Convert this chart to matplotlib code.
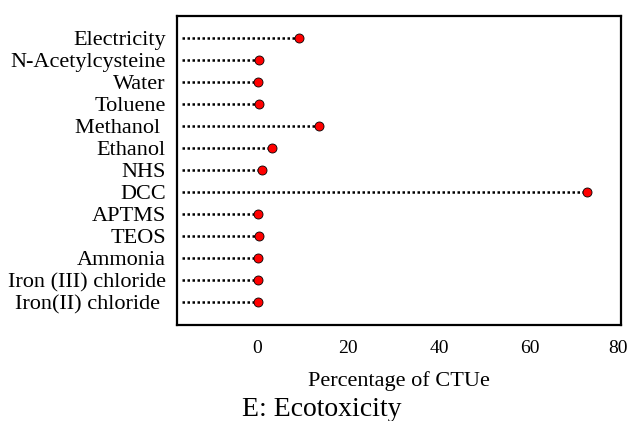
import numpy as np
import matplotlib
matplotlib.use('Agg')
import matplotlib.pyplot as plt
import matplotlib.transforms as mtransforms

plt.rcParams['font.family'] = ['Liberation Serif', 'DejaVu Serif']

# values, top row first
chemicals = ['Electricity', 'N-Acetylcysteine', 'Water', 'Toluene', 'Methanol ',
             'Ethanol', 'NHS', 'DCC', 'APTMS', 'TEOS', 'Ammonia',
             'Iron (III) chloride', 'Iron(II) chloride ']
ctue_pct = [9.2, 0.4, 0.2, 0.3, 13.5, 3.1, 0.9, 72.6, 0.2, 0.3, 0.2, 0.2, 0.2]
xticks = [0, 20, 40, 60, 80]

fig = plt.figure(figsize=(6.29, 4.21), dpi=100)
ax = fig.add_axes([0.2814, 0.228, 0.7059, 0.734])

xmin = -17.7
y = np.arange(len(chemicals))[::-1]
ax.hlines(y, xmin + 1.2, ctue_pct, colors='black', linestyles=(0, (1, 1)), linewidth=1.8)
ax.plot(ctue_pct, y, 'o', color='red', markeredgecolor='black',
        markeredgewidth=0.6, markersize=6.5, zorder=3)

ax.set_xlim(xmin, 80)
ax.set_ylim(-1.05, 13)
ax.set_yticks(y)
ax.set_yticklabels(chemicals, fontsize=16)
ax.set_xticks(xticks)
ax.set_xticklabels([str(t) for t in xticks], fontsize=14)
ax.tick_params(axis='both', length=0)
ax.tick_params(axis='x', pad=11)
ax.tick_params(axis='y', pad=8)
for s in ax.spines.values():
    s.set_linewidth(1.6)

# keep the last tick label just inside the canvas
last = ax.get_xticklabels()[-1]
last.set_transform(last.get_transform() + mtransforms.ScaledTranslation(-3 / 100, 0, fig.dpi_scale_trans))

ax.set_xlabel('Percentage of CTUe', fontsize=16, labelpad=10)
fig.text(0.512, 0.011, 'E: Ecotoxicity', fontsize=20, ha='center', va='baseline')

fig.savefig('out.png', dpi=100)
